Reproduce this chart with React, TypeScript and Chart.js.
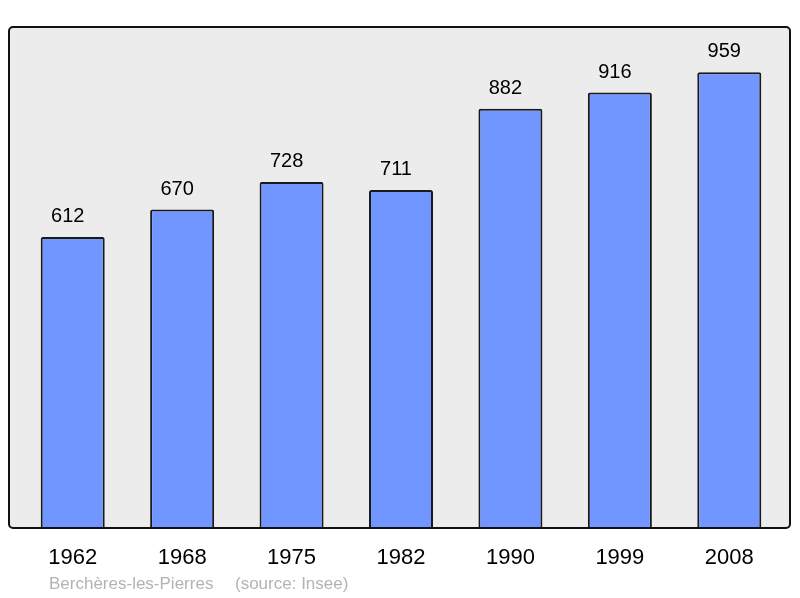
import React, { useEffect, useRef } from "react";
import { Chart, registerables } from "chart.js";

Chart.register(...registerables);

const years = ["1962", "1968", "1975", "1982", "1990", "1999", "2008"];
const population = [612, 670, 728, 711, 882, 916, 959];
const footerName = "Berchères-les-Pierres";
const footerSource = "(source: Insee)";

const FONT = "'Liberation Sans', Arial, sans-serif";

const framePlugin = {
  id: "frame",
  beforeDatasetsDraw(chart: any) {
    const { ctx } = chart;
    ctx.save();
    ctx.fillStyle = "#ececec";
    ctx.beginPath();
    (ctx as any).roundRect(9, 27, 781, 501, 4);
    ctx.fill();
    ctx.restore();
  },
  afterDatasetsDraw(chart: any) {
    const { ctx } = chart;
    ctx.save();
    // value labels
    const meta = chart.getDatasetMeta(0);
    ctx.fillStyle = "#000";
    ctx.font = `20px ${FONT}`;
    ctx.textAlign = "center";
    ctx.textBaseline = "alphabetic";
    meta.data.forEach((bar: any, i: number) => {
      ctx.fillText(String(chart.data.datasets[0].data[i]), bar.x - 5, bar.y - 15);
    });
    // frame
    ctx.strokeStyle = "#111111";
    ctx.lineWidth = 2;
    ctx.beginPath();
    (ctx as any).roundRect(9, 27, 781, 501, 4);
    ctx.stroke();
    // footer
    ctx.fillStyle = "#b3b3b3";
    ctx.font = `17px ${FONT}`;
    ctx.textAlign = "left";
    ctx.fillText(footerName, 49, 589);
    ctx.fillText(footerSource, 235, 589);
    ctx.restore();
  },
};

export default function App() {
  const ref = useRef<HTMLCanvasElement>(null);
  useEffect(() => {
    if (!ref.current) return;
    const chart = new Chart(ref.current, {
      type: "bar",
      data: {
        labels: years,
        datasets: [
          {
            data: population,
            backgroundColor: "#7196ff",
            borderColor: "#1a1a1a",
            borderWidth: 2,
            borderRadius: 2,
            barPercentage: 0.585,
            categoryPercentage: 1,
          },
        ],
      },
      options: {
        responsive: false,
        animation: false,
        layout: { padding: { left: 18, right: 16, top: 27, bottom: 0 } },
        plugins: { legend: { display: false }, tooltip: { enabled: false } },
        scales: {
          x: {
            grid: { display: false, drawTicks: false },
            border: { display: false },
            ticks: {
              color: "#000",
              font: { family: FONT, size: 22 },
              padding: 17,
              maxRotation: 0,
            },
            afterFit: (scale: any) => {
              scale.height = 70;
            },
          },
          y: { display: false, min: 0, max: 1054 },
        },
      },
      plugins: [framePlugin],
    });
    return () => chart.destroy();
  }, []);
  return (
    <div style={{ position: "absolute", left: 0, top: 0, width: 800, height: 598 }}>
      <canvas ref={ref} width={800} height={598} />
    </div>
  );
}
